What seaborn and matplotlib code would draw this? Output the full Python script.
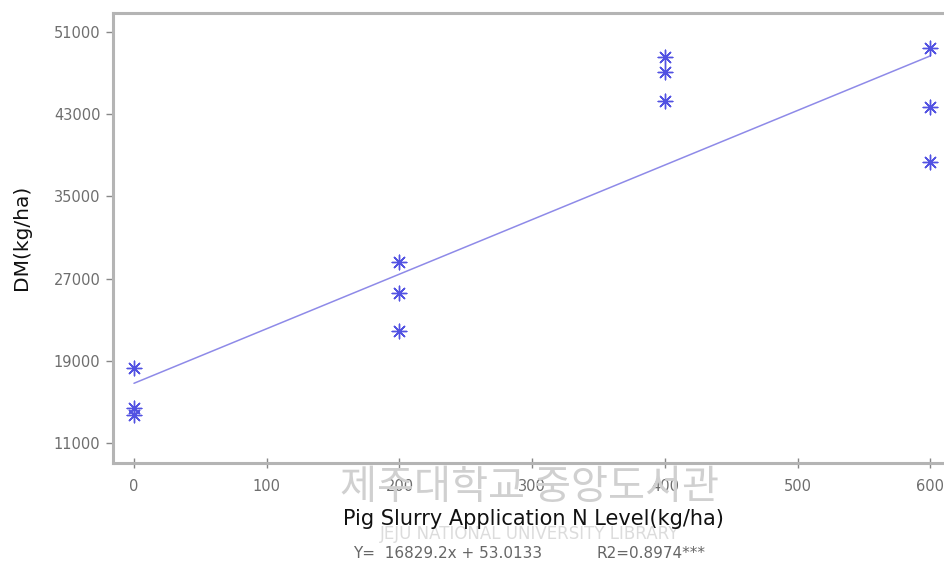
import numpy as np
import pandas as pd
import matplotlib
matplotlib.use("Agg")
import matplotlib.pyplot as plt
import seaborn as sns

# Pig slurry N level (kg/ha) and dry matter yield (kg/ha), three replicates each
n_levels = [0, 0, 0, 200, 200, 200, 400, 400, 400, 600, 600, 600]
dm_yield = [18300, 14400, 13750,
            28600, 25600, 21900,
            48500, 47100, 44300,
            49400, 43700, 38300]

# Fitted regression: intercept and slope
intercept = 16829.2
slope = 53.0133
fit_x = [0, 600]

x_ticks = [0, 100, 200, 300, 400, 500, 600]
y_ticks = [11000, 19000, 27000, 35000, 43000, 51000]

sns.set_style("white")
plt.rcParams["font.family"] = ["DejaVu Sans", "Noto Sans CJK KR"]

df = pd.DataFrame({"N": n_levels, "DM": dm_yield})
fit_df = pd.DataFrame({"N": fit_x,
                       "DM": [intercept + slope * v for v in fit_x]})

fig = plt.figure(figsize=(9.45, 5.65), dpi=100)
ax = fig.add_axes([113 / 945, 1 - 463 / 565, 1 - 113 / 945, (463 - 13) / 565])

sns.lineplot(data=fit_df, x="N", y="DM", ax=ax, color="#8e8ae8",
             linewidth=1.1)
sns.scatterplot(data=df, x="N", y="DM", ax=ax, marker=(8, 2, 0), s=110,
                color="#5252e2", linewidth=1.0, edgecolor="#5252e2", zorder=3)

ax.set_xlim(-15.8, 611)
ax.set_ylim(9086, 52800)
ax.set_xticks(x_ticks)
ax.set_yticks(y_ticks)
ax.set_xticklabels([str(v) for v in x_ticks])
ax.set_yticklabels([str(v) for v in y_ticks])
ax.set_xlabel("")
ax.set_ylabel("")

grey = "#b4b4b4"
for side in ("left", "bottom", "top"):
    ax.spines[side].set_color(grey)
    ax.spines[side].set_linewidth(2.2)
ax.spines["right"].set_visible(False)

ax.tick_params(axis="y", direction="out", length=5, width=1, color="#888888",
               labelsize=10.5, labelcolor="#6e6e6e", pad=4)
ax.tick_params(axis="x", direction="inout", length=7, width=1, color="#888888",
               labelsize=10.5, labelcolor="#6e6e6e", pad=8)
ax.tick_params(left=True, bottom=True)

# Library stamp under the axis
fig.text(530 / 945, 1 - 488 / 565, "제주대학교 중앙도서관",
         family=["Noto Sans CJK KR"], fontsize=29, color="#d0d0d0",
         ha="center", va="center", zorder=0)
fig.text(530 / 945, 1 - 534 / 565, "JEJU NATIONAL UNIVERSITY LIBRARY",
         fontsize=12, color="#dcdcdc", ha="center", va="center", zorder=0)

fig.text(22 / 945, 1 - 237 / 565, "DM(kg/ha)", rotation=90,
         fontsize=14.5, color="#111111", ha="center", va="center")
fig.text(533 / 945, 1 - 519 / 565, "Pig Slurry Application N Level(kg/ha)",
         fontsize=15, color="#111111", ha="center", va="center")
fig.text(353 / 945, 1 - 553 / 565, "Y=  16829.2x + 53.0133",
         fontsize=11, color="#666666", ha="left", va="center")
fig.text(597 / 945, 1 - 553 / 565, "R2=0.8974***",
         fontsize=11, color="#666666", ha="left", va="center")

fig.savefig("out.png", dpi=100)
